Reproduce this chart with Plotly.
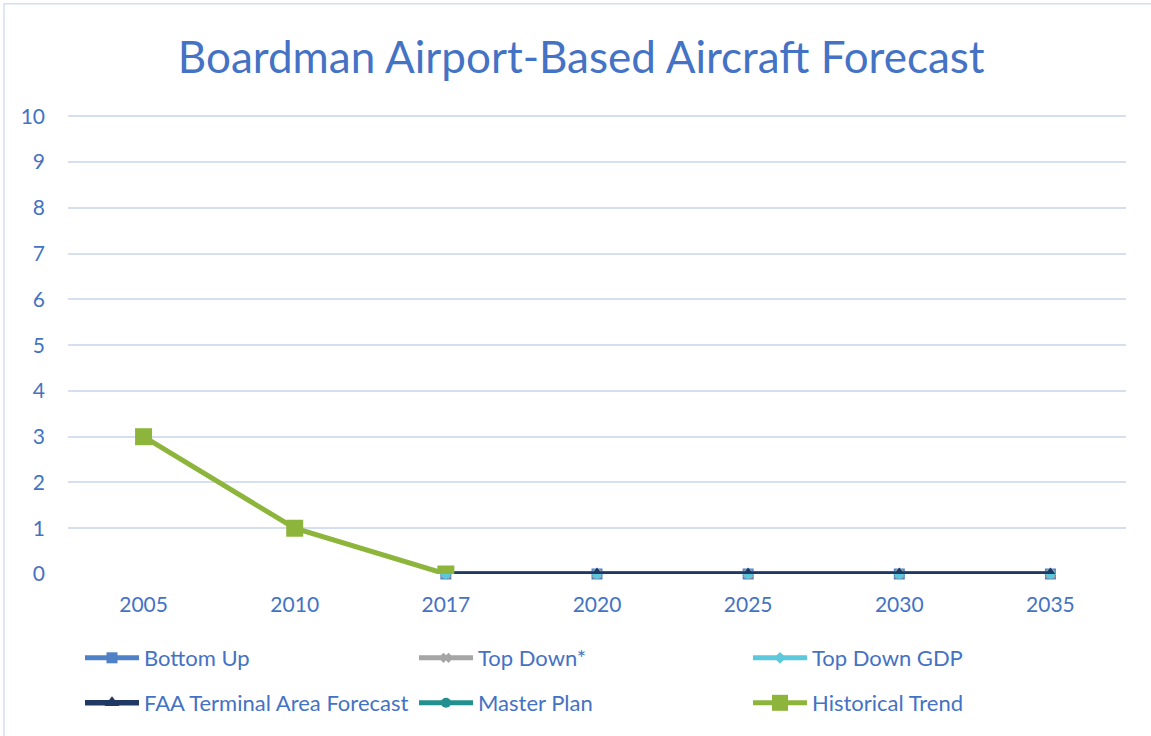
import plotly.graph_objects as go

years = ["2005", "2010", "2017", "2020", "2025", "2030", "2035"]
bottom_up = [None, None, 0, 0, 0, 0, 0]
top_down = [None, None, 0, 0, 0, 0, 0]
top_down_gdp = [None, None, 0, 0, 0, 0, 0]
faa_taf = [None, None, 0, 0, 0, 0, 0]
master_plan = [None, None, None, None, None, None, None]
historical = [3, 1, 0, None, None, None, None]

BLUE_TXT = "#4472C4"
FONT = "Lato"

series = [
    ("Bottom Up", bottom_up, "#4F81C7", "square", 11, "legend", 0, 5),
    ("Top Down*", top_down, "#A5A5A5", "x", 9, "legend", 0, 5),
    ("Top Down GDP", top_down_gdp, "#5BC8DB", "diamond", 9, "legend", 0, 5),
    ("FAA Terminal Area Forecast", faa_taf, "#1F3864", "triangle-up", 13, "legend2", 1, 5.5),
    ("Master Plan", master_plan, "#21908E", "circle", 10, "legend2", 0, 5),
    ("Historical Trend", historical, "#8DB53C", "square", 17, "legend2", 2, 5),
]

fig = go.Figure()
for name, vals, color, sym, size, lg, z, lw in series:
    fig.add_trace(go.Scatter(
        x=years, y=vals, name=name, mode="lines+markers",
        line=dict(color=color, width=lw),
        marker=dict(color=color, symbol=sym, size=size),
        cliponaxis=False, legend=lg, connectgaps=False, zorder=z,
    ))

legend_common = dict(orientation="h", x=80/1151, xref="container", yref="container",
                     xanchor="left", yanchor="top",
                     entrywidth=265, entrywidthmode="pixels", itemwidth=54,
                     font=dict(size=22, color=BLUE_TXT), bgcolor="rgba(0,0,0,0)")

fig.update_layout(
    width=1151, height=736,
    margin=dict(l=68, r=25, t=115, b=162, autoexpand=False),
    paper_bgcolor="white", plot_bgcolor="white",
    title=dict(text="Boardman Airport-Based Aircraft Forecast", x=0.505, xanchor="center",
               y=0.922, yanchor="middle",
               font=dict(family=FONT, size=44, color=BLUE_TXT)),
    font=dict(family=FONT, color=BLUE_TXT),
    xaxis=dict(type="category", range=[-0.5, 6.5], showgrid=False, showline=False,
               zeroline=False, ticks="", ticklabelstandoff=16,
               tickfont=dict(size=21, color=BLUE_TXT)),
    yaxis=dict(range=[0, 10.03], tickvals=list(range(0, 11)), showgrid=True,
               gridcolor="#D6DFF0", gridwidth=1.5,
               zeroline=False, showline=False, ticks="", ticklabelstandoff=22,
               tickfont=dict(size=21, color=BLUE_TXT)),
    legend=dict(y=1 - 637/736, **legend_common),
    legend2=dict(y=1 - 682/736, **legend_common),
    showlegend=True,
)

fig.add_shape(type="rect", xref="paper", yref="paper",
              x0=-64/1058, x1=1100/1058, y0=-200/458, y1=569/458,
              line=dict(color="#D6DFF0", width=1.5), fillcolor="rgba(0,0,0,0)", layer="below")

fig.write_html("out.html", config={"displayModeBar": False},
               post_script="document.body.style.margin='0';document.body.style.overflow='hidden';")
